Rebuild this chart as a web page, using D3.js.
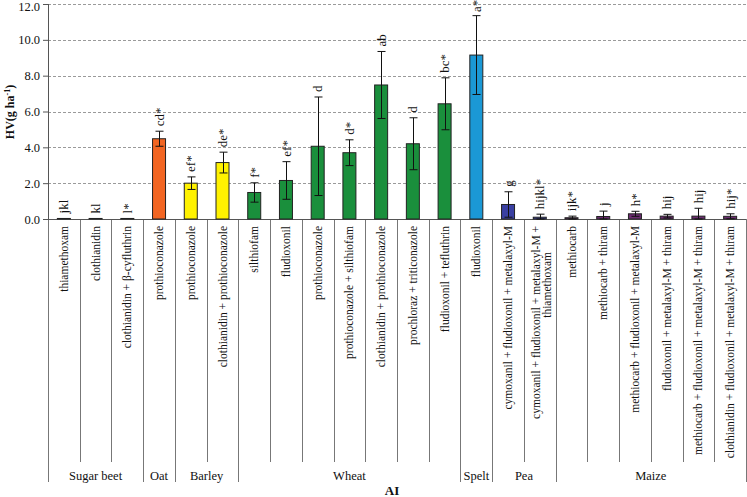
<!DOCTYPE html>
<html lang="en">
<head>
  <meta charset="UTF-8">
  <title>HV by AI and crop</title>
  <script src="https://d3js.org/d3.v7.min.js"></script>
  <style>
    body { margin: 0; background: white; }
    svg text { font-family: "Liberation Serif", "Times New Roman", "DejaVu Serif", serif; fill: #111; }
  </style>
</head>
<body>
  <div id="chart"></div>

  <script>
    // data
    const treatments = [
      "thiamethoxam", "clothianidin", "clothianidin + β-cyfluthrin",
      "prothioconazole",
      "prothioconazole", "clothianidin + prothioconazole",
      "silthiofam", "fludioxonil", "prothioconazole", "prothioconazole + silthiofam",
      "clothianidin + prothioconazole", "prochloraz + triticonazole", "fludioxonil + tefluthrin",
      "fludioxonil",
      "cymoxanil + fludioxonil + metalaxyl-M",
      "cymoxanil + fludioxonil + metalaxyl-M +|thiamethoxam",
      "methiocarb", "methiocarb + thiram", "methiocarb + fludioxonil + metalaxyl-M",
      "fludioxonil + metalaxyl-M + thiram", "methiocarb + fludioxonil + metalaxyl-M + thiram",
      "clothianidin + fludioxonil + metalaxyl-M + thiram"
    ];
    const crops = ["Sugar beet", "Sugar beet", "Sugar beet", "Oat", "Barley", "Barley",
      "Wheat", "Wheat", "Wheat", "Wheat", "Wheat", "Wheat", "Wheat", "Spelt", "Pea", "Pea",
      "Maize", "Maize", "Maize", "Maize", "Maize", "Maize"];
    const hv = [0.03, 0.03, 0.03, 4.48, 2.0, 3.15, 1.48, 2.15, 4.06, 3.7, 7.48, 4.2, 6.43, 9.15,
      0.81, 0.1, 0.07, 0.14, 0.29, 0.16, 0.16, 0.15];
    const sd = [0, 0, 0, 0.42, 0.35, 0.58, 0.54, 1.05, 2.75, 0.72, 1.87, 1.45, 1.45, 2.2,
      0.71, 0.17, 0.09, 0.3, 0.14, 0.1, 0.44, 0.14];
    const letters = ["jkl", "kl", "l*", "cd*", "ef*", "de*", "f*", "ef*", "d", "d*", "ab", "d", "bc*", "a*",
      "g", "hijkl*", "ijk*", "j", "h*", "hij", "hij", "hij*"];
    const yTicks = [0, 2, 4, 6, 8, 10, 12];

    const cropColor = {
      "Sugar beet": "#1a8f3c", "Oat": "#f26522", "Barley": "#fff200", "Wheat": "#1a8f3c",
      "Spelt": "#1b98d5", "Pea": "#3a40a2", "Maize": "#6b2c70"
    };

    const width = 747, height = 497;
    const plotLeft = 48, plotRight = 746, base = 219, plotTop = 4;

    const svg = d3.select("#chart").append("svg")
      .attr("width", width).attr("height", height);

    const x = d3.scaleBand().domain(d3.range(treatments.length)).range([plotLeft, plotRight]);
    const y = d3.scaleLinear().domain([0, 12]).range([base, plotTop]);
    const bw = 13;

    // grid
    svg.append("g").selectAll("line").data(yTicks.filter(t => t > 0)).join("line")
      .attr("x1", plotLeft).attr("x2", width)
      .attr("y1", d => Math.round(y(d)) + 0.5).attr("y2", d => Math.round(y(d)) + 0.5)
      .attr("stroke", "#9a9a9a").attr("stroke-dasharray", "3,2");

    // y axis
    const yAxis = svg.append("g")
      .attr("transform", `translate(${plotLeft},0)`)
      .call(d3.axisLeft(y).tickValues(yTicks).tickFormat(d3.format(".1f")).tickSize(5).tickPadding(3));
    yAxis.select(".domain").remove();
    yAxis.selectAll(".tick line").attr("stroke", "#555");
    yAxis.selectAll(".tick text").attr("font-size", 12.5).attr("fill", "#111")
      .attr("font-family", '"Liberation Serif", serif');
    // keep the top label inside the page
    yAxis.selectAll(".tick text").filter(d => d === 12).attr("dy", "0.5em");

    svg.append("text")
      .attr("transform", "translate(14,112) rotate(-90)")
      .attr("text-anchor", "middle")
      .attr("font-size", 12).attr("font-weight", "bold")
      .html('HV(g ha<tspan baseline-shift="super" font-size="8">-1</tspan>)');

    // category dividers
    const groupStart = crops.map((c, i) => i === 0 || crops[i - 1] !== c);
    svg.append("g").selectAll("line").data(d3.range(treatments.length + 1)).join("line")
      .attr("x1", i => Math.round(i < treatments.length ? x(i) : plotRight) + 0.5)
      .attr("x2", i => Math.round(i < treatments.length ? x(i) : plotRight) + 0.5)
      .attr("y1", base)
      .attr("y2", i => (i === treatments.length || groupStart[i]) ? 482 : 462)
      .attr("stroke", "#777");

    // axis lines
    svg.append("line").attr("x1", plotLeft + 0.5).attr("x2", plotLeft + 0.5).attr("y1", plotTop).attr("y2", base)
      .attr("stroke", "#555");
    svg.append("line").attr("x1", plotLeft).attr("x2", plotRight).attr("y1", base + 0.5).attr("y2", base + 0.5)
      .attr("stroke", "#555");

    // bars
    const cx = i => x(i) + x.bandwidth() / 2;
    svg.append("g").selectAll("rect").data(hv).join("rect")
      .attr("x", (d, i) => cx(i) - bw / 2)
      .attr("y", d => y(d))
      .attr("width", bw)
      .attr("height", d => base - y(d))
      .attr("fill", (d, i) => cropColor[crops[i]])
      .attr("stroke", "#222").attr("stroke-width", 1);

    // error bars
    const eb = svg.append("g").attr("stroke", "#111").attr("stroke-width", 1);
    hv.forEach((d, i) => {
      if (sd[i] <= 0) return;
      const x0 = Math.round(cx(i)) + 0.5;
      const lo = Math.max(0, d - sd[i]), hi = d + sd[i];
      eb.append("line").attr("x1", x0).attr("x2", x0).attr("y1", y(lo)).attr("y2", y(hi));
      [lo, hi].forEach(v => {
        eb.append("line").attr("x1", x0 - 4).attr("x2", x0 + 4).attr("y1", y(v)).attr("y2", y(v));
      });
    });

    // significance letters
    svg.append("g").selectAll("text").data(letters).join("text")
      .attr("transform", (d, i) => `translate(${cx(i)},${Math.max(12, y(hv[i] + sd[i]) - 5)}) rotate(-90)`)
      .attr("dy", "0.35em")
      .attr("font-size", 13)
      .text(d => d);

    // treatment labels
    const lab = svg.append("g");
    treatments.forEach((t, i) => {
      const lines = t.split("|");
      if (lines.length === 1) {
        lab.append("text")
          .attr("transform", `translate(${cx(i)},226) rotate(-90)`)
          .attr("text-anchor", "end").attr("dy", "0.35em")
          .attr("font-size", 11.5).text(t);
      } else {
        lab.append("text")
          .attr("transform", `translate(${cx(i) - 4},226) rotate(-90)`)
          .attr("text-anchor", "end").attr("dy", "0.35em")
          .attr("font-size", 11.5).text(lines[0]);
        lab.append("text")
          .attr("transform", `translate(${cx(i) + 7},252) rotate(-90)`)
          .attr("text-anchor", "end").attr("dy", "0.35em")
          .attr("font-size", 11.5).text(lines[1]);
      }
    });

    // crop group labels
    const groups = [];
    crops.forEach((c, i) => {
      if (groupStart[i]) groups.push({ name: c, first: i, last: i });
      else groups[groups.length - 1].last = i;
    });
    svg.append("g").selectAll("text").data(groups).join("text")
      .attr("x", g => (x(g.first) + x(g.last) + x.bandwidth()) / 2)
      .attr("y", 480)
      .attr("text-anchor", "middle")
      .attr("font-size", 12.5)
      .text(g => g.name);

    svg.append("text")
      .attr("x", 392).attr("y", 495)
      .attr("text-anchor", "middle")
      .attr("font-size", 13).attr("font-weight", "bold")
      .text("AI");
  </script>
</body>
</html>
